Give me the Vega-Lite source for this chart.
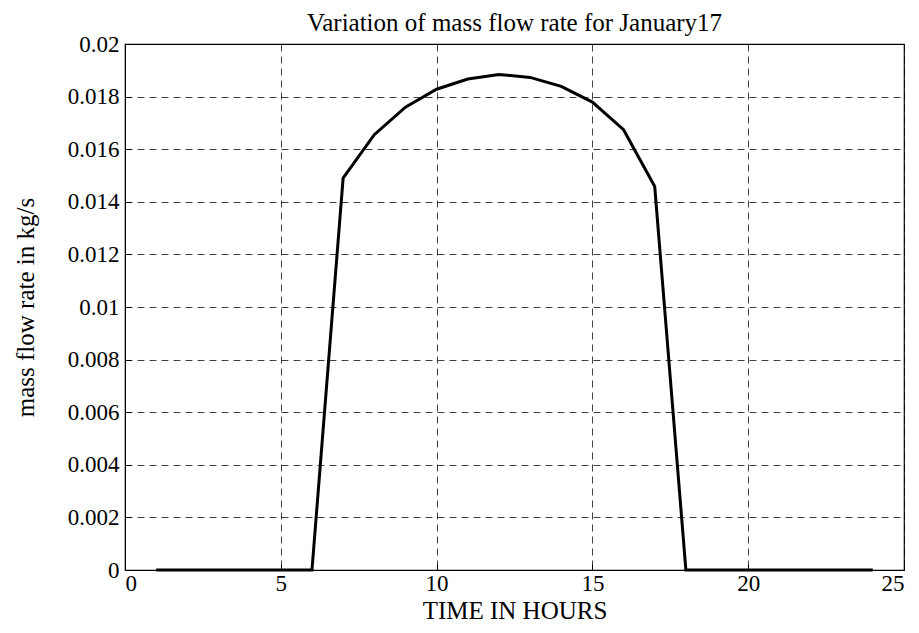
{
  "$schema": "https://vega.github.io/schema/vega-lite/v6.json",
  "width": 779,
  "height": 526,
  "autosize": {"type": "none"},
  "padding": {"left": 125, "top": 44, "right": 15, "bottom": 63},
  "background": "white",
  "title": {
    "text": "Variation of mass flow rate for January17",
    "font": "Liberation Serif",
    "fontSize": 25,
    "fontWeight": "normal",
    "color": "#000",
    "offset": -3,
    "anchor": "middle"
  },
  "config": {
    "view": {"stroke": "#000", "strokeWidth": 1.2},
    "axis": {
      "labelFont": "Liberation Serif",
      "titleFont": "Liberation Serif",
      "labelFontSize": 23,
      "titleFontSize": 25,
      "titleFontWeight": "normal",
      "labelColor": "#000",
      "titleColor": "#000",
      "domainColor": "#000",
      "tickColor": "#000",
      "tickSize": -6,
      "gridColor": "#000",
      "gridOpacity": 0.75,
      "gridDash": [7, 5],
      "gridWidth": 1
    }
  },
  "data": {
    "values": [
      {"t": 1, "m": 0}, {"t": 2, "m": 0}, {"t": 3, "m": 0}, {"t": 4, "m": 0},
      {"t": 5, "m": 0}, {"t": 6, "m": 0},
      {"t": 7, "m": 0.0149}, {"t": 8, "m": 0.01655}, {"t": 9, "m": 0.0176},
      {"t": 10, "m": 0.01828}, {"t": 11, "m": 0.01867}, {"t": 12, "m": 0.01884},
      {"t": 13, "m": 0.01873}, {"t": 14, "m": 0.01839}, {"t": 15, "m": 0.01779},
      {"t": 16, "m": 0.01674}, {"t": 17, "m": 0.01458},
      {"t": 18, "m": 0}, {"t": 19, "m": 0}, {"t": 20, "m": 0}, {"t": 21, "m": 0},
      {"t": 22, "m": 0}, {"t": 23, "m": 0}, {"t": 24, "m": 0}
    ]
  },
  "mark": {"type": "line", "color": "#000", "strokeWidth": 3},
  "encoding": {
    "x": {
      "field": "t", "type": "quantitative",
      "scale": {"domain": [0, 25], "nice": false},
      "axis": {
        "title": "TIME IN HOURS",
        "values": [0, 5, 10, 15, 20, 25],
        "format": "~g",
        "labelPadding": 8,
        "titlePadding": 3
      }
    },
    "y": {
      "field": "m", "type": "quantitative",
      "scale": {"domain": [0, 0.02], "nice": false},
      "axis": {
        "title": "mass flow rate in kg/s",
        "values": [0, 0.002, 0.004, 0.006, 0.008, 0.01, 0.012, 0.014, 0.016, 0.018, 0.02],
        "format": "~g",
        "labelPadding": 12,
        "titlePadding": 29
      }
    }
  }
}
